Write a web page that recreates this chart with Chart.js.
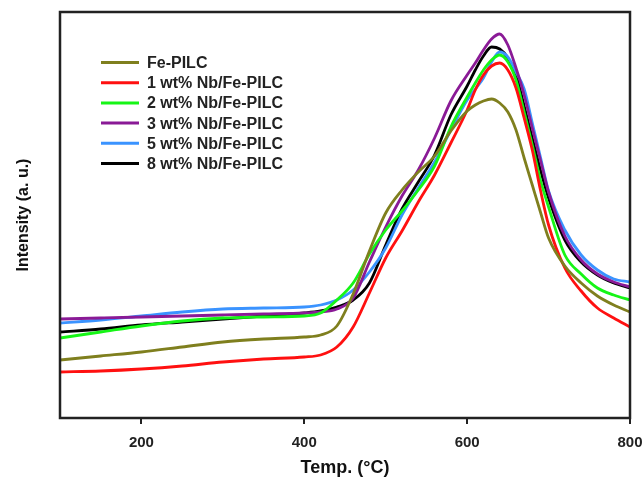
<!DOCTYPE html>
<html>
<head>
<meta charset="utf-8">
<script src="https://cdn.jsdelivr.net/npm/chart.js@4.4.0/dist/chart.umd.min.js"></script>
<style>
  body { margin: 0; background: #fff; }
  #wrap { width: 642px; height: 479px; }
</style>
</head>
<body>
<div id="wrap"><canvas id="tpr" width="642" height="479"></canvas></div>
<script>
// H2-TPR profiles, intensity in arbitrary units
var temps = [100, 150, 200, 250, 300, 350, 400, 420, 440, 460, 480, 500, 520, 540, 560, 580,
             600, 610, 620, 630, 640, 650, 660, 670, 680, 690, 700, 720, 740, 760, 780, 800];

var fePilc = [58, 62, 66, 71, 76, 79, 81, 83, 92, 124, 167, 205, 228, 246, 262, 287,
              307, 313, 317, 319, 315, 306, 288, 260, 233, 206, 180, 152, 135, 122, 113, 106];
var nb1 = [46, 47, 49, 52, 56, 59, 61, 63, 71, 91, 125, 160, 187, 216, 243, 275,
           308, 328, 343, 352, 355, 348, 330, 300, 268, 228, 193, 150, 127, 110, 100, 91];
var nb2 = [80, 86, 92, 97, 100, 101, 102, 105, 118, 135, 164, 188, 207, 228, 252, 291,
           321, 335, 348, 358, 363, 356, 338, 306, 273, 238, 211, 163, 144, 130, 123, 118];
var nb3 = [99, 100, 101, 102, 103, 104, 105, 106, 109, 120, 156, 191, 222, 248, 280, 317,
           343, 355, 368, 379, 384, 373, 350, 323, 290, 258, 226, 182, 158, 144, 136, 131];
var nb5 = [95, 98, 102, 106, 109, 110, 111, 113, 118, 128, 146, 170, 203, 230, 256, 288,
           318, 329, 340, 356, 366, 361, 346, 329, 295, 261, 227, 188, 163, 148, 139, 136];
var nb8 = [86, 89, 93, 96, 99, 102, 105, 107, 111, 118, 135, 173, 209, 236, 263, 303,
           332, 348, 362, 371, 369, 360, 343, 312, 280, 248, 220, 178, 156, 143, 135, 130];

var names = ['Fe-PILC', '1 wt% Nb/Fe-PILC', '2 wt% Nb/Fe-PILC', '3 wt% Nb/Fe-PILC', '5 wt% Nb/Fe-PILC', '8 wt% Nb/Fe-PILC'];
var colors = ['#7f7f1e', '#ff1010', '#16f516', '#8a1a96', '#3a93ff', '#000000'];
var xTicks = [200, 400, 600, 800];

var series = [fePilc, nb1, nb2, nb3, nb5, nb8];
var font = "'Liberation Sans', Arial, sans-serif";

// frame round the plot area
var frame = {
    id: 'frame',
    afterDatasetsDraw: function(chart) {
        var a = chart.chartArea, c = chart.ctx;
        c.save();
        c.strokeStyle = '#222';
        c.lineWidth = 2.5;
        c.strokeRect(a.left, a.top, a.right - a.left, a.bottom - a.top);
        c.restore();
    }
};

// legend inside the plot, top left
var insideLegend = {
    id: 'insideLegend',
    afterDraw: function(chart) {
        var a = chart.chartArea, c = chart.ctx;
        c.save();
        c.font = 'bold 16px ' + font;
        c.textBaseline = 'middle';
        chart.data.datasets.forEach(function(ds, i) {
            var y = a.top + 50.5 + i * 20.2;
            c.strokeStyle = ds.borderColor;
            c.lineWidth = 3;
            c.beginPath();
            c.moveTo(a.left + 41, y);
            c.lineTo(a.left + 79, y);
            c.stroke();
            c.fillStyle = '#222';
            c.fillText(ds.label, a.left + 87, y + 1);
        });
        c.restore();
    }
};

var ctx = document.getElementById('tpr');
var tprChart = new Chart(ctx, {
    type: 'line',
    data: {
        datasets: series.map(function(s, i) {
            return {
                label: names[i],
                data: temps.map(function(t, j) { return {x: t, y: s[j]}; }),
                borderColor: colors[i],
                borderWidth: 2.8,
                pointRadius: 0,
                cubicInterpolationMode: 'monotone',
                fill: false
            };
        })
    },
    options: {
        responsive: false,
        animation: false,
        layout: { padding: { left: 0, top: 12, right: 12, bottom: 0 } },
        plugins: {
            legend: { display: false },
            tooltip: { enabled: false }
        },
        scales: {
            x: {
                type: 'linear',
                min: 100,
                max: 800,
                afterBuildTicks: function(scale) {
                    scale.ticks = xTicks.map(function(v) { return {value: v}; });
                },
                afterFit: function(scale) {
                    scale.height = 61;
                    scale.paddingLeft = 0;
                    scale.paddingRight = 0;
                },
                grid: { display: true, drawOnChartArea: false, drawTicks: true, tickLength: 6, color: '#222', lineWidth: 2 },
                border: { display: false },
                ticks: { color: '#222', padding: 10, font: { family: font, size: 15, weight: 'bold' } },
                title: {
                    display: true,
                    text: 'Temp. (\u00B0C)',
                    color: '#111',
                    padding: { top: 0, bottom: 0 },
                    font: { family: font, size: 18, weight: 'bold' }
                }
            },
            y: {
                min: 0,
                max: 406,
                afterFit: function(scale) { scale.width = 60; },
                grid: { display: false },
                border: { display: false },
                ticks: { display: false },
                title: {
                    display: true,
                    text: 'Intensity (a. u.)',
                    color: '#111',
                    padding: { top: 14, bottom: 0 },
                    font: { family: font, size: 16, weight: 'bold' }
                }
            }
        }
    },
    plugins: [frame, insideLegend]
});
</script>
</body>
</html>
